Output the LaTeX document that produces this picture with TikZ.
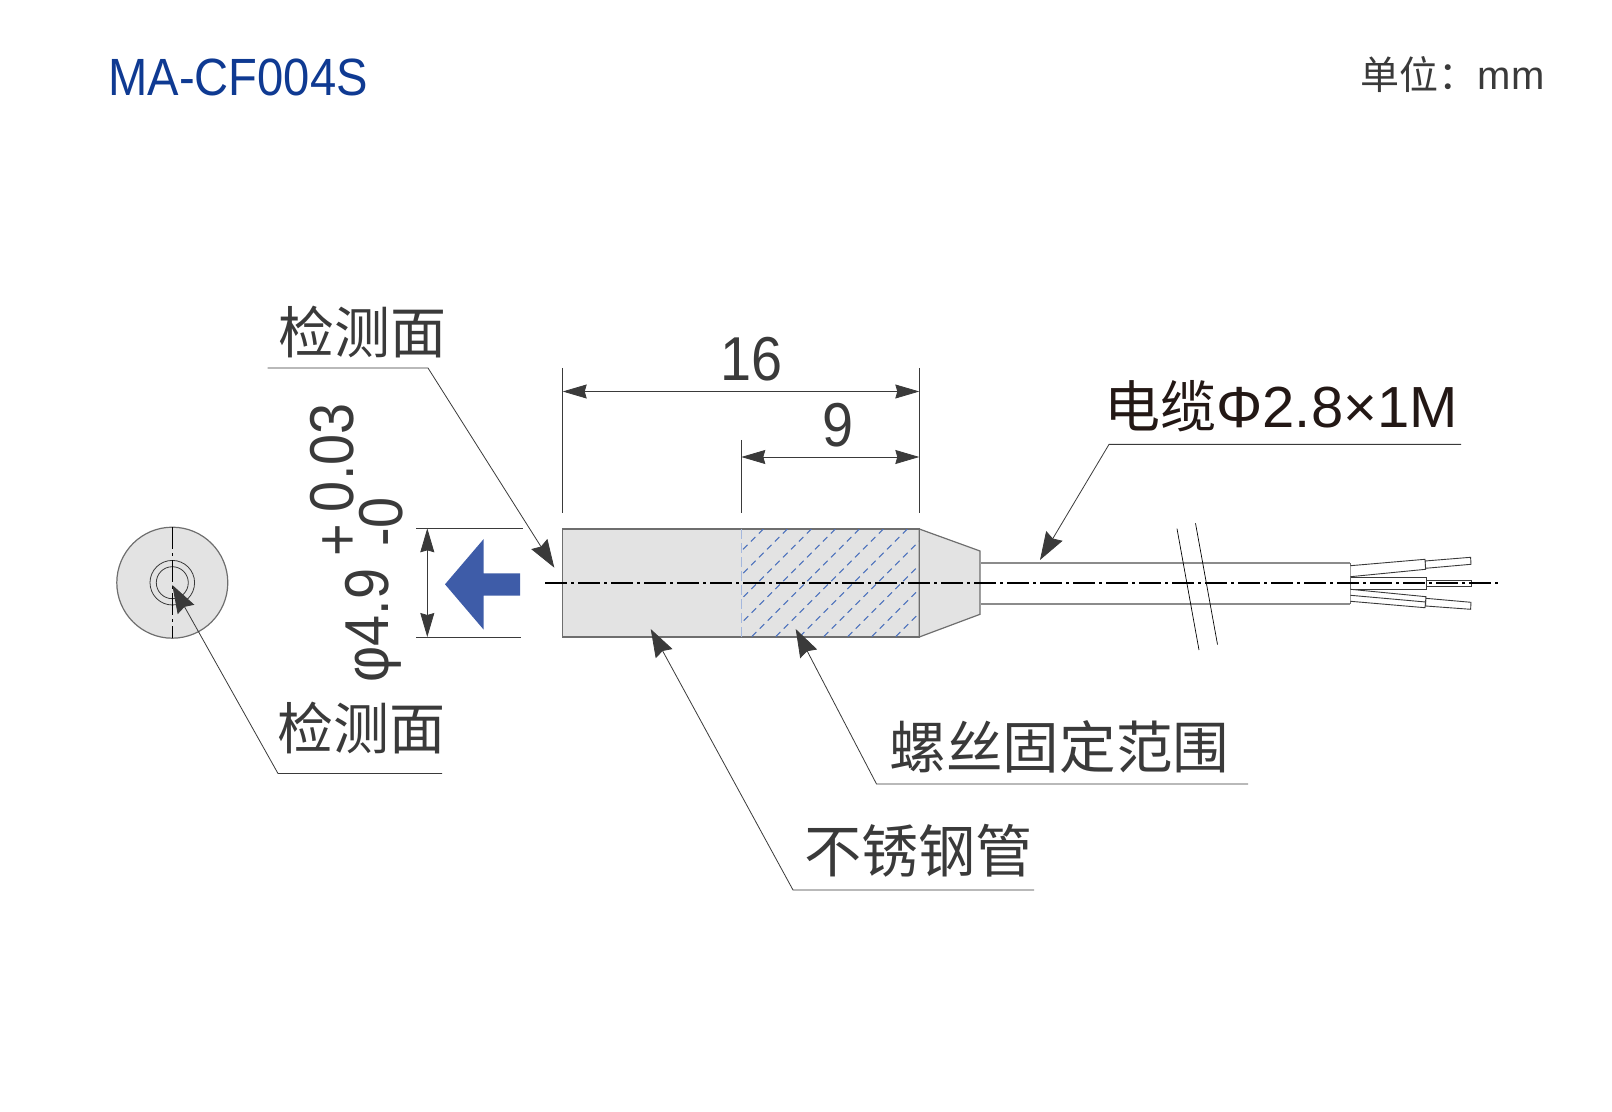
\documentclass[tikz,border=0pt]{standalone}
\usepackage{fontspec}
\setmainfont[FakeStretch=0.9]{Liberation Sans}
\newfontfamily\cablefont{Liberation Sans}
\newfontfamily\cjk{Noto Sans CJK SC}
\usetikzlibrary{arrows.meta}
\definecolor{inkgray}{HTML}{3A3A3A}
\definecolor{edgegray}{HTML}{6E6E6E}
\definecolor{bodygray}{HTML}{E3E3E3}
\definecolor{titleblue}{HTML}{0F3A92}
\definecolor{pushblue}{HTML}{3E5CA8}
\definecolor{hatchblue}{HTML}{4A70BC}
\definecolor{cableink}{HTML}{231815}
\begin{document}
\begin{tikzpicture}[x=0.5pt,y=-0.5pt,line join=miter]
\tikzstyle{label}=[inner sep=0pt,text=inkgray,font=\cjk\fontsize{28}{30}\selectfont]
\tikzstyle{num}=[inner sep=0pt,text=inkgray,font=\fontsize{31}{32}\selectfont]
\tikzstyle{outline}=[draw=edgegray,line width=0.6pt,fill=bodygray]
\tikzstyle{thinline}=[draw=inkgray,line width=0.4pt]
\tikzstyle{centerline}=[draw=black,line width=0.6pt,dash pattern=on 11pt off 2pt on 1.5pt off 2pt]
\tikzstyle{wire}=[draw=inkgray,line width=0.45pt,fill=white]
\tikzstyle{dimline}=[thinline,{Stealth[length=12pt,width=7pt,inset=1pt,inkgray]}-{Stealth[length=12pt,width=7pt,inset=1pt,inkgray]}]
\tikzstyle{leader}=[thinline,-{Stealth[length=14pt,width=9.5pt,inset=1.5pt,inkgray]}]
\useasboundingbox (0,0) rectangle (1612,1112);

\node[inner sep=0pt,anchor=base west,text=titleblue,font=\fontsize{26.2}{27}\selectfont] (title) at (108,96) {MA-CF004S};
\node[inner sep=0pt,anchor=base east,text=inkgray,font=\cablefont\fontsize{20}{22}\selectfont] (unit) at (1545,90) {{\cjk\fontsize{19.5}{22}\selectfont 单位：}mm};

% end view
\draw[outline] (172.3,582.7) circle (55.5);
\draw[thinline] (172.3,582.7) circle (22.3);
\draw[thinline] (172.3,582.7) circle (16);
\draw[centerline,line width=0.4pt] (172.3,527) -- (172.3,638);

% body
\draw[outline] (562.7,529) rectangle (919.3,637);
\begin{scope}
\clip (741.3,529) rectangle (919.3,637);
\foreach \k in {0,...,11}
  \draw[hatchblue,line width=0.5pt,dash pattern=on 3.2pt off 2.4pt] (763.3+24*\k,529) -- (655.3+24*\k,637);
\end{scope}
\draw[draw=hatchblue!50,line width=0.4pt,dash pattern=on 5pt off 2pt] (741.3,529) -- (741.3,637);
\draw[outline] (919.3,529) -- (980,551) -- (980,614.3) -- (919.3,637) -- cycle;

% cable
\draw[draw=edgegray!80,line width=0.8pt] (981,563) -- (1350,563);
\draw[draw=edgegray!80,line width=0.8pt] (981,604) -- (1350,604);
\draw[draw=edgegray,line width=0.4pt] (1350,563) -- (1350,604);

% wires
\draw[wire] (1425,561) -- (1470.6,557.3) -- (1471,564.3) -- (1425.6,568.3) -- cycle;
\draw[wire] (1350.5,565.7) -- (1425,559.3) -- (1425.6,569.3) -- (1350.5,576.7);
\draw[wire] (1426.5,580.3) rectangle (1471.6,586.7);
\draw[wire] (1350.5,577) -- (1426,577) -- (1426,589.7) -- (1350.5,589.7);
\draw[wire] (1425.6,598.3) -- (1471,602.3) -- (1470.6,609.3) -- (1425.6,606) -- cycle;
\draw[wire] (1350.5,589.3) -- (1426,596.7) -- (1425,607.7) -- (1350.5,601.3);
\draw[wire] (1350.5,595.3) -- (1425.6,602);

\draw[centerline] (545,583) -- (1500,583);

% break marks
\draw[draw=black,line width=0.35pt] (1177,528.7) -- (1199,650);
\draw[draw=black,line width=0.35pt] (1195.5,523.3) -- (1217.5,644.5);

% push direction
\fill[pushblue] (445,584.3) -- (483.7,539) -- (483.7,573.3) -- (520,573.3) -- (520,595.7) -- (483.7,595.7) -- (483.7,629.7) -- cycle;

% dimensions
\coordinate (extLa) at (562.7,368);
\coordinate (extLb) at (562.7,513);
\coordinate (extMa) at (741.3,440);
\coordinate (extMb) at (741.3,513);
\coordinate (extRa) at (919.3,368);
\coordinate (extRb) at (919.3,513);
\draw[thinline] (extLa) -- (extLb);
\draw[thinline] (extMa) -- (extMb);
\draw[thinline] (extRa) -- (extRb);
\draw[dimline] (562.7,391.5) -- (919.3,391.5);
\draw[dimline] (741.3,457) -- (919.3,457);
\node[num] (len16) at (752,359.5) {16};
\node[num] (len9) at (838,425) {9};

\coordinate (extTa) at (416,528.3);
\coordinate (extTb) at (523,528.3);
\coordinate (extBa) at (416,637);
\coordinate (extBb) at (521,637);
\draw[thinline] (extTa) -- (extTb);
\draw[thinline] (extBa) -- (extBb);
\draw[dimline] (427.3,528.3) -- (427.3,637);
\node[num,rotate=90,anchor=base west] (dia) at (388,683) {φ4.9};
\node[num,rotate=90,anchor=base west] (upper) at (353,557) {\raisebox{-2.5pt}{+}\kern6pt 0.03};
\node[num,rotate=90,anchor=base west] (lower) at (402.7,547) {-0};

% labels
\node[label] (faceA) at (362,332) {检测面};
\coordinate (faceAend) at (267.5,368);
\coordinate (faceAknee) at (428,368);
\coordinate (faceAtip) at (554.3,567.7);
\draw[leader] (faceAend) -- (faceAknee) -- (faceAtip);

\node[label] (faceB) at (361,728) {检测面};
\coordinate (faceBend) at (442,773.5);
\coordinate (faceBknee) at (278,773.5);
\coordinate (faceBtip) at (172.3,585);
\draw[leader] (faceBend) -- (faceBknee) -- (faceBtip);

\node[label,font=\cjk\fontsize{28.6}{30}\selectfont] (tube) at (918.6,851) {不锈钢管};
\coordinate (tubeEnd) at (1034,890);
\coordinate (tubeKnee) at (793,890);
\coordinate (tubeTip) at (650.7,629);
\draw[leader] (tubeEnd) -- (tubeKnee) -- (tubeTip);

\node[label,font=\cjk\fontsize{28.3}{30}\selectfont] (thread) at (1059.5,747) {螺丝固定范围};
\coordinate (threadEnd) at (1248,784);
\coordinate (threadKnee) at (876.5,784);
\coordinate (threadTip) at (795.7,629);
\draw[leader] (threadEnd) -- (threadKnee) -- (threadTip);

\node[label,anchor=base west,text=cableink,font=\cablefont\fontsize{29}{30}\selectfont] (cableText) at (1104,428) {{\cjk\fontsize{28}{30}\selectfont 电缆}Φ2.8×1M};
\coordinate (cableEnd) at (1461,444.4);
\coordinate (cableKnee) at (1109,444.4);
\coordinate (cableTip) at (1040,560);
\draw[leader] (cableEnd) -- (cableKnee) -- (cableTip);
\end{tikzpicture}
\end{document}
